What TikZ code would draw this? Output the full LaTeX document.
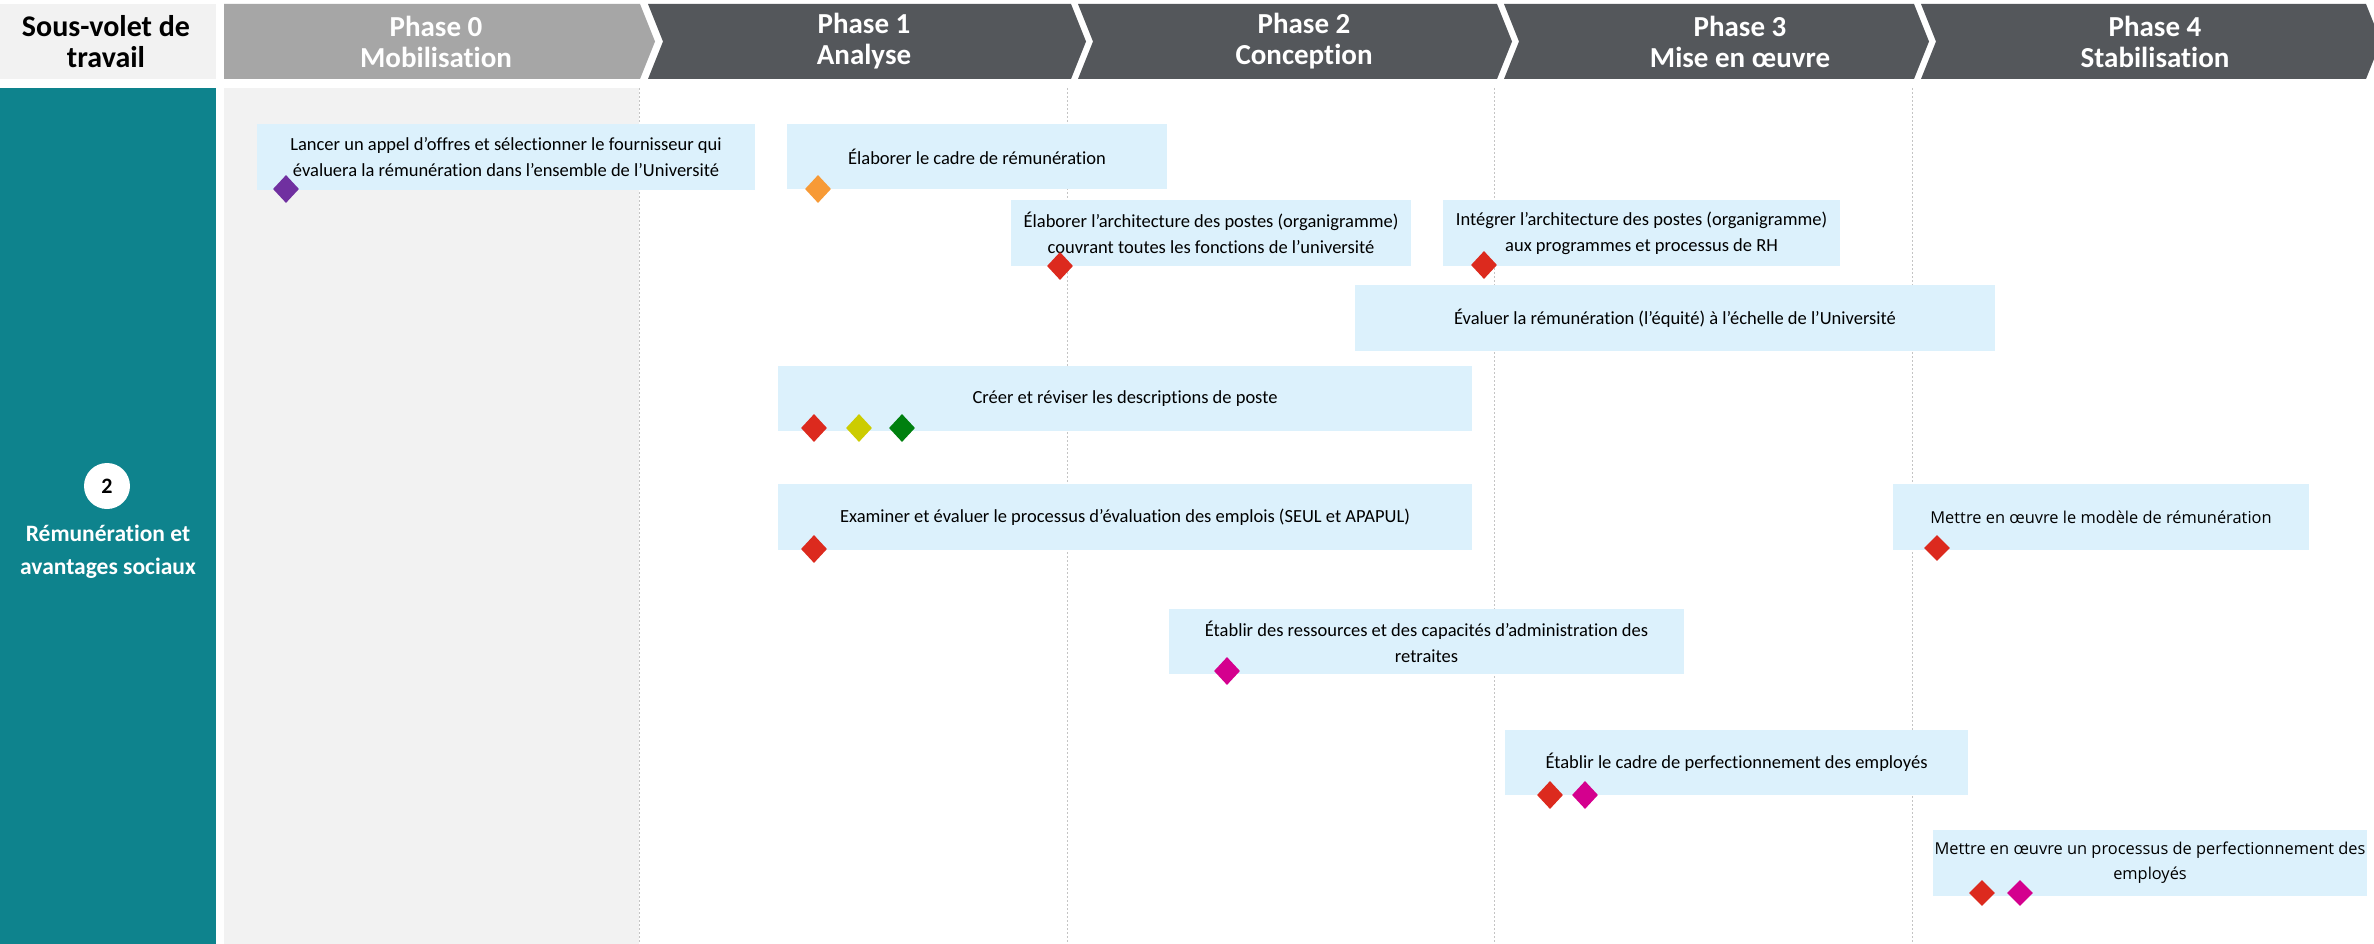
\documentclass[tikz,border=0pt]{standalone}
\usepackage{fontspec}
\setmainfont[Ligatures={NoCommon}]{Carlito}
\newfontfamily\segoe{Open Sans}
\usetikzlibrary{shapes.geometric}
\definecolor{hdrgrey}{HTML}{F2F2F2}
\definecolor{ph0}{HTML}{A6A6A6}
\definecolor{phdark}{HTML}{54575B}
\definecolor{tealc}{HTML}{0E838D}
\definecolor{boxblue}{HTML}{DCF1FC}
\definecolor{dpurple}{HTML}{7030A0}
\definecolor{dorange}{HTML}{F79A36}
\definecolor{dred}{HTML}{DC2A1E}
\definecolor{dyellow}{HTML}{CCCC00}
\definecolor{dgreen}{HTML}{00800F}
\definecolor{dmagenta}{HTML}{D4008E}
\definecolor{gridgrey}{HTML}{C4C4C4}
\tikzset{
 taskbox/.style={fill=boxblue, inner sep=0pt, align=center, text=black, font=\fontsize{18.5}{26}\selectfont},
 segbox/.style={taskbox, font=\segoe\fontsize{16.4}{25}\selectfont},
 ms/.style={shape=diamond, fill=#1, minimum width=26pt, minimum height=28pt, inner sep=0pt},
 phasetxt/.style={text=white, font=\bfseries\fontsize{29}{31}\selectfont, align=center, inner sep=0pt},
 gridline/.style={draw=gridgrey, line width=1pt, dash pattern=on 2pt off 2pt},
}
\begin{document}
\begin{tikzpicture}[x=1pt,y=-1pt]
\useasboundingbox (0,0) rectangle (2374,944);
\fill[white] (0,0) rectangle (2374,944);
% header
\fill[hdrgrey] (0,4) rectangle (216,79);
\node[align=center, inner sep=0pt, font=\bfseries\fontsize{30}{31}\selectfont] (hdr) at (106,41.5) {Sous-volet de\\travail};
\fill[ph0] (224,4) -- (640,4) -- (655,41.5) -- (640,79) -- (224,79) -- cycle;
\fill[phdark] (648,4) -- (1071,4) -- (1086,41.5) -- (1071,79) -- (648,79) -- (663,41.5) -- cycle;
\fill[phdark] (1078,4) -- (1497,4) -- (1512,41.5) -- (1497,79) -- (1078,79) -- (1093,41.5) -- cycle;
\fill[phdark] (1504,4) -- (1914,4) -- (1929,41.5) -- (1914,79) -- (1504,79) -- (1519,41.5) -- cycle;
\fill[phdark] (1921,4) -- (2366,4) -- (2381,41.5) -- (2366,79) -- (1921,79) -- (1936,41.5) -- cycle;
\node[phasetxt] (p0) at (436,41.5) {Phase 0\\Mobilisation};
\node[phasetxt] (p1) at (864,41.5) {Phase 1\\Analyse};
\node[phasetxt] (p2) at (1304,41.5) {Phase 2\\Conception};
\node[phasetxt] (p3) at (1740,41.5) {Phase 3\\Mise en œuvre};
\node[phasetxt] (p4) at (2155,41.5) {Phase 4\\Stabilisation};
% body backgrounds
\fill[tealc] (0,88) rectangle (216,944);
\fill[hdrgrey] (224,88) rectangle (639,944);
\node[circle, fill=white, minimum size=46pt, inner sep=0pt, font=\bfseries\fontsize{22}{24}\selectfont] (num) at (107,486) {2};
\node[text=white, align=center, inner sep=0pt, font=\bfseries\fontsize{23.5}{33}\selectfont] (ws) at (108,552) {Rémunération et\\avantages sociaux};
% grid lines
\foreach \gx in {639,1067,1494,1912} \draw[gridline] (\gx,88) -- (\gx,944);
% task boxes
\node[taskbox, minimum width=498pt, minimum height=66pt] (b1) at (506,157) {Lancer un appel d’offres et sélectionner le fournisseur qui\\évaluera la rémunération dans l’ensemble de l’Université};
\node[taskbox, minimum width=380pt, minimum height=65pt] (b2) at (977,156.5) {Élaborer le cadre de rémunération};
\node[taskbox, minimum width=400pt, minimum height=66pt] (b3) at (1211,233) {Élaborer l’architecture des postes (organigramme)\\couvrant toutes les fonctions de l’université};
\node[taskbox, minimum width=397pt, minimum height=66pt] (b4) at (1641.5,233) {Intégrer l’architecture des postes (organigramme)\\aux programmes et processus de RH};
\node[taskbox, minimum width=640pt, minimum height=66pt] (b5) at (1675,318) {Évaluer la rémunération (l’équité) à l’échelle de l’Université};
\node[taskbox, minimum width=694pt, minimum height=65pt] (b6) at (1125,398.5) {Créer et réviser les descriptions de poste};
\node[taskbox, minimum width=694pt, minimum height=66pt] (b7) at (1125,517) {Examiner et évaluer le processus d’évaluation des emplois (SEUL et APAPUL)};
\node[segbox, minimum width=416pt, minimum height=66pt] (b8) at (2101,517) {Mettre en œuvre le modèle de rémunération};
\node[taskbox, minimum width=515pt, minimum height=65pt] (b9) at (1426.5,641.5) {Établir des ressources et des capacités d’administration des\\retraites};
\node[taskbox, minimum width=463pt, minimum height=65pt] (b10) at (1736.5,762.5) {Établir le cadre de perfectionnement des employés};
\node[segbox, minimum width=434pt, minimum height=66pt] (b11) at (2150,863) {Mettre en œuvre un processus de perfectionnement des\\employés};
% milestones
\node[ms=dpurple] (m1) at (286,189) {};
\node[ms=dorange] (m2) at (818,189) {};
\node[ms=dred] (m3) at (1060,266) {};
\node[ms=dred] (m4) at (1484,265) {};
\node[ms=dred] (m6a) at (814,428) {};
\node[ms=dyellow] (m6b) at (859,428) {};
\node[ms=dgreen] (m6c) at (902,428) {};
\node[ms=dred] (m7) at (814,549) {};
\node[ms=dred, minimum height=26pt] (m8) at (1937,548) {};
\node[ms=dmagenta] (m9) at (1227,671) {};
\node[ms=dred] (m10a) at (1550,795) {};
\node[ms=dmagenta] (m10b) at (1585,795) {};
\node[ms=dred, minimum height=26pt] (m11a) at (1982,893) {};
\node[ms=dmagenta, minimum height=26pt] (m11b) at (2020,893) {};
\end{tikzpicture}
\end{document}
